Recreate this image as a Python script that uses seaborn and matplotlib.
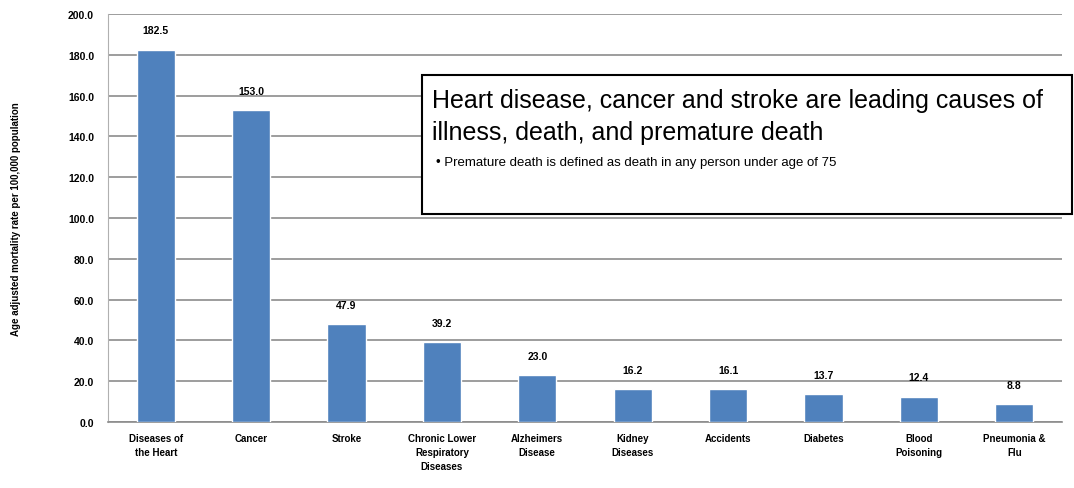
import matplotlib
matplotlib.use("Agg")
import numpy as np
import pandas as pd
import seaborn as sns
import matplotlib.pyplot as plt

causes = ["Diseases of\nthe Heart", "Cancer", "Stroke",
          "Chronic Lower\nRespiratory\nDiseases", "Alzheimers\nDisease",
          "Kidney\nDiseases", "Accidents", "Diabetes", "Blood\nPoisoning",
          "Pneumonia &\nFlu"]
rates = [182.5, 153.0, 47.9, 39.2, 23.0, 16.2, 16.1, 13.7, 12.4, 8.8]
yticks = np.arange(0, 201, 20)

df = pd.DataFrame({"cause": causes, "rate": rates})

sns.set_style("white")
plt.rcParams["font.family"] = ["Liberation Sans", "DejaVu Sans"]
plt.rcParams["text.color"] = "black"
plt.rcParams["axes.labelcolor"] = "black"
plt.rcParams["xtick.color"] = "black"
plt.rcParams["ytick.color"] = "black"

fig = plt.figure(figsize=(10.74, 4.89), dpi=100)
ax = fig.add_axes([108 / 1074, 1 - 423 / 489, 954 / 1074, 408 / 489])

sns.barplot(data=df, x="cause", y="rate", color="#4F81BD", saturation=1,
            width=0.4, ax=ax, zorder=3)

ax.set_ylim(0, 200)
ax.set_yticks(yticks)
ax.set_yticklabels([f"{v:.1f}" for v in yticks], fontsize=7.5, fontweight="bold")
ax.yaxis.grid(True, color="#8c8c8c", linewidth=1.2, zorder=0)
ax.set_axisbelow(True)
ax.tick_params(axis="x", labelsize=7, length=0, pad=8)
for lbl in ax.get_xticklabels():
    lbl.set_fontweight("bold")
    lbl.set_linespacing(1.5)
ax.tick_params(axis="y", length=0, pad=10)
ax.set_xlabel("")
ax.set_ylabel("Age adjusted mortality rate per 100,000 population",
              fontsize=7, fontweight="bold", labelpad=34)

for s in ["top", "right"]:
    ax.spines[s].set_visible(False)
ax.spines["left"].set_color("#b0b0b0")
ax.spines["bottom"].set_color("#8c8c8c")
ax.spines["bottom"].set_linewidth(1.2)

for i, v in enumerate(rates):
    ax.text(i, v + 7, f"{v:.1f}", ha="center", va="bottom", fontsize=7.5,
            fontweight="bold")

# annotation box
box = plt.Rectangle((422 / 1074, 1 - 215 / 489), 650 / 1074, 139 / 489,
                    transform=fig.transFigure, facecolor="white",
                    edgecolor="black", linewidth=1.5, zorder=5)
fig.patches.append(box)
fig.text(432 / 1074, 1 - 101 / 489,
         "Heart disease, cancer and stroke are leading causes of",
         fontsize=18, va="center", ha="left", zorder=6)
fig.text(432 / 1074, 1 - 133 / 489, "illness, death, and premature death",
         fontsize=18, va="center", ha="left", zorder=6)
fig.text(436 / 1074, 1 - 163 / 489,
         "\u2022 Premature death is defined as death in any person under age of 75",
         fontsize=9.5, va="center", ha="left", zorder=6)

fig.savefig("out.png", dpi=100)
